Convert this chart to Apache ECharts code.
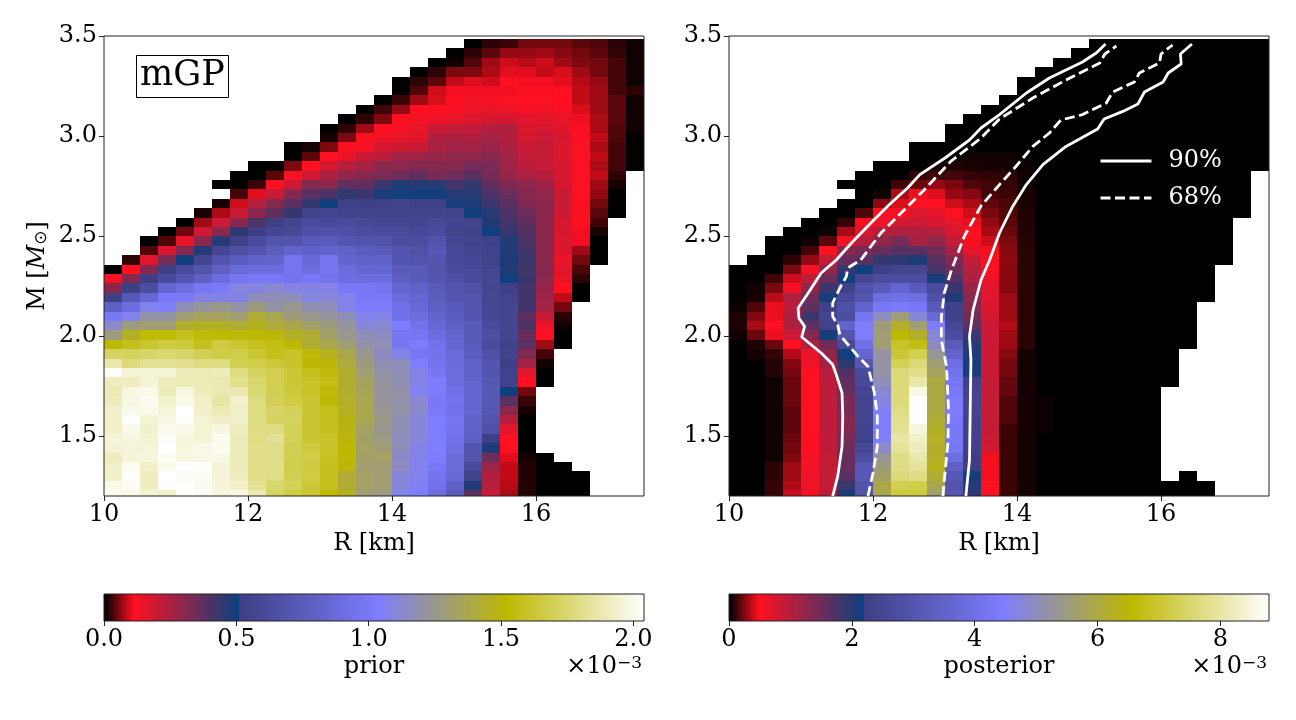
<!DOCTYPE html>
<html>
<head>
<meta charset="utf-8">
<style>html,body{margin:0;padding:0;background:#fff}#chart-container{width:1296px;height:720px}</style>
<script src="https://cdn.jsdelivr.net/npm/echarts@6/dist/echarts.min.js"></script>
</head>
<body>
<div id="chart-container"></div>
<script>
const _ = null;
// cell values in units of 1e-3, top row first, 30 radius bins per row
const priorRows = [
[_,_,_,_,_,_,_,_,_,_,_,_,_,_,_,_,_,_,_,_,0,.02,.025,.05,.05,.05,.04,.035,.02,.008],
[_,_,_,_,_,_,_,_,_,_,_,_,_,_,_,_,_,_,_,0,.02,.04,.065,.065,.07,.06,.05,.04,.022,.008],
[_,_,_,_,_,_,_,_,_,_,_,_,_,_,_,_,_,_,0,.008,.035,.07,.09,.08,.09,.07,.055,.05,.03,.008],
[_,_,_,_,_,_,_,_,_,_,_,_,_,_,_,_,_,0,.02,.055,.055,.075,.1,.1,.085,.095,.07,.05,.03,.008],
[_,_,_,_,_,_,_,_,_,_,_,_,_,_,_,_,0,.02,.04,.085,.098,.09,.113,.107,.107,.1,.08,.065,.03,.008],
[_,_,_,_,_,_,_,_,_,_,_,_,_,_,_,_,0,.035,.09,.107,.107,.107,.107,.11,.11,.113,.085,.07,.03,.02],
[_,_,_,_,_,_,_,_,_,_,_,_,_,_,_,0,.025,.07,.095,.11,.13,.13,.12,.115,.12,.113,.085,.07,.04,.008],
[_,_,_,_,_,_,_,_,_,_,_,_,_,_,0,.028,.065,.113,.115,.125,.14,.15,.14,.13,.14,.125,.095,.07,.04,.008],
[_,_,_,_,_,_,_,_,_,_,_,_,_,0,.02,.055,.113,.13,.14,.15,.17,.18,.18,.16,.16,.15,.105,.075,.04,.008],
[_,_,_,_,_,_,_,_,_,_,_,_,0,.02,.07,.113,.13,.15,.2,.21,.21,.23,.24,.17,.18,.16,.113,.075,.035,.008],
[_,_,_,_,_,_,_,_,_,_,_,_,.01,.055,.11,.14,.15,.16,.24,.25,.24,.26,.24,.18,.2,.18,.113,.085,.035,0],
[_,_,_,_,_,_,_,_,_,_,0,.01,.055,.11,.13,.18,.19,.2,.25,.27,.26,.28,.25,.2,.21,.17,.12,.075,.03,0],
[_,_,_,_,_,_,_,_,_,_,0,.04,.113,.15,.2,.22,.26,.27,.28,.29,.29,.31,.26,.21,.21,.17,.12,.085,.03,0],
[_,_,_,_,_,_,_,_,0,0,.055,.113,.18,.23,.26,.3,.3,.31,.31,.31,.34,.33,.27,.22,.2,.18,.118,.075,.03,0],
[_,_,_,_,_,_,_,0,0,.04,.13,.19,.25,.29,.31,.33,.35,.37,.33,.35,.38,.34,.28,.25,.23,.18,.118,.085,.02,_],
[_,_,_,_,_,_,0,0,.025,.11,.19,.31,.3,.37,.37,.43,.47,.46,.46,.42,.44,.37,.32,.3,.27,.18,.118,.07,.01,_],
[_,_,_,_,_,_,_,.03,.1,.2,.31,.38,.4,.45,.43,.48,.495,.495,.495,.46,.46,.4,.35,.31,.29,.2,.113,.065,0,_],
[_,_,_,_,_,_,.01,.09,.23,.31,.38,.44,.5,.53,.52,.53,.55,.53,.53,.49,.48,.43,.38,.32,.3,.2,.11,.05,0,_],
[_,_,_,_,_,.01,.075,.2,.3,.37,.44,.55,.56,.55,.55,.55,.55,.55,.55,.54,.5,.46,.4,.35,.3,.2,.11,.04,0,_],
[_,_,_,_,0,.07,.2,.3,.4,.52,.56,.62,.6,.62,.6,.58,.58,.56,.6,.56,.55,.47,.42,.37,.3,.18,.113,.028,_,_],
[_,_,_,0,.05,.19,.3,.45,.52,.57,.6,.65,.66,.65,.63,.62,.62,.6,.62,.55,.54,.5,.44,.39,.3,.18,.107,.012,_,_],
[_,_,0,.035,.15,.3,.46,.54,.62,.68,.68,.74,.74,.7,.68,.68,.63,.63,.68,.56,.55,.53,.47,.4,.3,.17,.107,0,_,_],
[_,_,.035,.17,.31,.47,.58,.65,.68,.76,.82,.8,.82,.8,.76,.74,.7,.66,.72,.6,.57,.55,.47,.42,.3,.17,.07,0,_,_],
[_,.02,.16,.33,.5,.56,.68,.76,.8,.82,.97,.86,.97,.82,.8,.8,.7,.68,.7,.6,.58,.54,.48,.43,.3,.15,.05,0,_,_],
[0,.113,.31,.52,.62,.68,.78,.87,.9,.9,.97,.9,.97,.9,.85,.84,.74,.74,.68,.62,.6,.56,.47,.42,.31,.16,.033,_,_,_],
[.13,.31,.52,.62,.7,.78,.9,.97,1,1,.96,1,.95,.9,.9,.9,.78,.74,.7,.65,.62,.58,.5,.43,.3,.15,.02,_,_,_],
[.3,.52,.63,.84,.9,.98,1.01,1.09,1.09,1.12,1.08,1.08,1.08,1,1,.97,.84,.8,.74,.68,.66,.57,.53,.42,.28,.113,0,_,_,_],
[.52,.72,.85,1,1,1.08,1.08,1.08,1.16,1.17,1.17,1.09,1.1,1.07,1,1,.88,.84,.76,.7,.68,.58,.55,.42,.27,.085,0,_,_,_],
[.78,.9,1.07,1.05,1.17,1.22,1.25,1.2,1.28,1.2,1.25,1.18,1.17,1.07,1.02,1.02,.93,.86,.78,.74,.7,.58,.56,.42,.26,.05,_,_,_,_],
[1,1.06,1.2,1.2,1.3,1.34,1.34,1.3,1.42,1.36,1.28,1.25,1.22,1.17,1.07,1.08,.93,.9,.82,.75,.7,.58,.56,.38,.2,.018,_,_,_,_],
[1.13,1.28,1.3,1.3,1.43,1.45,1.44,1.42,1.46,1.4,1.38,1.32,1.28,1.22,1.1,1.12,1.03,.95,.86,.78,.74,.62,.56,.4,.14,.008,_,_,_,_],
[1.28,1.44,1.53,1.53,1.58,1.54,1.53,1.53,1.52,1.5,1.44,1.42,1.32,1.25,1.17,1.15,.98,.98,.9,.82,.74,.64,.56,.36,.113,0,_,_,_,_],
[1.52,1.57,1.62,1.65,1.64,1.58,1.65,1.62,1.58,1.56,1.52,1.42,1.37,1.3,1.2,1.17,.98,1.03,.94,.84,.74,.62,.54,.38,.07,0,_,_,_,_],
[1.72,1.71,1.73,1.75,1.73,1.69,1.66,1.67,1.62,1.57,1.6,1.54,1.46,1.37,1.25,1.15,1.08,.98,.95,.87,.76,.66,.55,.32,.03,_,_,_,_,_],
[1.87,1.77,1.82,1.82,1.81,1.78,1.78,1.68,1.67,1.64,1.6,1.52,1.5,1.4,1.28,1.18,1.17,1.03,.96,.88,.8,.7,.52,.26,.008,_,_,_,_,_],
[2.03,1.95,1.95,1.95,1.9,1.89,1.9,1.78,1.72,1.68,1.63,1.58,1.54,1.43,1.3,1.2,1.17,1.08,.98,.9,.8,.7,.54,.16,0,_,_,_,_,_],
[1.91,1.91,1.95,1.91,1.89,1.89,1.88,1.81,1.74,1.68,1.63,1.6,1.56,1.43,1.34,1.22,1.18,1.08,1.02,.9,.82,.72,.54,.113,0,_,_,_,_,_],
[1.89,1.98,2,1.9,1.98,1.9,1.88,1.88,1.75,1.68,1.64,1.6,1.54,1.43,1.35,1.22,1.2,1.06,1.02,.92,.84,.72,.5,.05,_,_,_,_,_,_],
[1.9,1.98,2.01,1.94,2,1.93,1.85,1.94,1.78,1.69,1.66,1.62,1.52,1.44,1.36,1.22,1.2,1.12,1,.95,.84,.72,.38,.025,_,_,_,_,_,_],
[1.94,2,2,1.96,2.04,1.93,1.89,1.93,1.78,1.73,1.7,1.62,1.57,1.45,1.37,1.24,1.2,1.13,1,.94,.84,.72,.3,.01,_,_,_,_,_,_],
[1.93,2.04,1.95,1.98,2.03,1.96,1.92,1.94,1.78,1.72,1.72,1.62,1.57,1.48,1.36,1.26,1.18,1.1,1.03,.97,.8,.68,.23,0,_,_,_,_,_,_],
[1.93,2,1.94,2.01,2,1.95,1.97,1.91,1.78,1.78,1.7,1.62,1.58,1.48,1.33,1.25,1.18,1.1,1.03,.96,.8,.66,.16,0,_,_,_,_,_,_],
[1.96,1.97,1.95,2.02,1.97,1.95,2.01,1.9,1.79,1.82,1.7,1.62,1.6,1.5,1.32,1.27,1.16,1.1,1.03,.93,.78,.52,.113,0,_,_,_,_,_,_],
[1.95,1.96,1.96,2.04,1.97,1.99,2.01,1.9,1.8,1.8,1.68,1.65,1.6,1.52,1.33,1.3,1.16,1.08,1.03,.92,.7,.48,.113,0,_,_,_,_,_,_],
[1.91,1.96,1.97,2.02,1.98,1.99,1.99,1.9,1.8,1.8,1.68,1.66,1.59,1.52,1.32,1.33,1.14,1.07,1.02,.88,.68,.35,.1,.01,0,_,_,_,_,_],
[1.93,2.01,1.93,2,2.04,2.03,1.96,1.9,1.8,1.8,1.67,1.65,1.58,1.5,1.3,1.3,1.15,1.07,1,.88,.6,.28,.085,.015,0,0,_,_,_,_],
[1.93,2.03,1.91,2.04,2.02,2.02,1.96,1.91,1.8,1.79,1.68,1.66,1.58,1.42,1.33,1.3,1.1,1.07,.96,.86,.54,.24,.085,.015,0,0,0,_,_,_],
[2,2.02,1.91,2.03,2.04,2.01,1.96,1.93,1.82,1.74,1.7,1.63,1.58,1.42,1.33,1.3,1.1,1.05,.94,.8,.47,.23,.08,.015,0,0,0,_,_,_],
[2.01,1.99,1.95,1.93,2.04,2.02,1.97,1.99,1.88,1.72,1.66,1.62,1.52,1.46,1.3,1.27,1.07,1.03,.9,.74,.38,.2,.075,.015,0,0,0,_,_,_]
];
const posteriorRows = [
[_,_,_,_,_,_,_,_,_,_,_,_,_,_,_,_,_,_,_,_,0,0,0,0,0,0,0,0,0,0],
[_,_,_,_,_,_,_,_,_,_,_,_,_,_,_,_,_,_,_,0,0,0,0,0,0,0,0,0,0,0],
[_,_,_,_,_,_,_,_,_,_,_,_,_,_,_,_,_,_,0,0,0,0,0,0,0,0,0,0,0,0],
[_,_,_,_,_,_,_,_,_,_,_,_,_,_,_,_,_,0,0,0,0,0,0,0,0,0,0,0,0,0],
[_,_,_,_,_,_,_,_,_,_,_,_,_,_,_,_,0,0,0,0,0,0,0,0,0,0,0,0,0,0],
[_,_,_,_,_,_,_,_,_,_,_,_,_,_,_,_,0,0,0,0,0,0,0,0,0,0,0,0,0,0],
[_,_,_,_,_,_,_,_,_,_,_,_,_,_,_,0,0,0,0,0,0,0,0,0,0,0,0,0,0,0],
[_,_,_,_,_,_,_,_,_,_,_,_,_,_,0,0,0,0,0,0,0,0,0,0,0,0,0,0,0,0],
[_,_,_,_,_,_,_,_,_,_,_,_,_,0,0,0,0,0,0,0,0,0,0,0,0,0,0,0,0,0],
[_,_,_,_,_,_,_,_,_,_,_,_,0,0,0,0,0,0,0,0,0,0,0,0,0,0,0,0,0,0],
[_,_,_,_,_,_,_,_,_,_,_,_,0,0,0,0,0,0,0,0,0,0,0,0,0,0,0,0,0,0],
[_,_,_,_,_,_,_,_,_,_,0,0,0,0,0,0,0,0,0,0,0,0,0,0,0,0,0,0,0,0],
[_,_,_,_,_,_,_,_,_,_,0,0,.01,.03,.03,.03,0,0,0,0,0,0,0,0,0,0,0,0,0,0],
[_,_,_,_,_,_,_,_,0,0,0,.04,.06,.05,.04,.04,.02,0,0,0,0,0,0,0,0,0,0,0,0,0],
[_,_,_,_,_,_,_,0,0,0,.1,.12,.13,.1,.09,.08,.03,0,0,0,0,0,0,0,0,0,0,0,0,_],
[_,_,_,_,_,_,0,0,0,.12,.2,.28,.23,.15,.12,.1,.03,0,0,0,0,0,0,0,0,0,0,0,0,_],
[_,_,_,_,_,_,_,0,.03,.32,.45,.42,.28,.25,.13,.11,.05,0,0,0,0,0,0,0,0,0,0,0,0,_],
[_,_,_,_,_,_,0,0,.26,.41,.5,.48,.39,.32,.18,.14,.05,0,0,0,0,0,0,0,0,0,0,0,0,_],
[_,_,_,_,_,0,0,.15,.5,.55,.72,.65,.48,.39,.23,.15,.06,0,0,0,0,0,0,0,0,0,0,0,0,_],
[_,_,_,_,0,0,.1,.46,.62,.8,.85,.75,.65,.45,.28,.17,.06,0,0,0,0,0,0,0,0,0,0,0,_,_],
[_,_,_,0,0,.03,.32,.75,1,1.05,1.05,1,.75,.48,.32,.2,.07,0,0,0,0,0,0,0,0,0,0,0,_,_],
[_,_,0,0,.03,.17,.55,1,1.25,1.45,1.1,1.25,.9,.47,.39,.23,.07,0,0,0,0,0,0,0,0,0,0,0,_,_],
[_,_,0,0,.13,.48,1.3,1.45,1.55,1.65,1.65,1.45,1.1,.65,.46,.26,.08,0,0,0,0,0,0,0,0,0,0,0,_,_],
[_,0,0,.09,.28,.9,1.55,1.65,1.9,1.95,2.05,1.65,1.35,.9,.48,.27,.08,0,0,0,0,0,0,0,0,0,0,0,_,_],
[0,0,0,.23,.55,1.25,1.9,2.15,2.25,2.4,2.4,1.75,1.5,1,.5,.26,.08,0,0,0,0,0,0,0,0,0,0,_,_,_],
[0,0,.12,.39,.95,1.5,2.15,2.45,2.7,2.7,2.7,2.1,1.7,1.05,.6,.26,.08,0,0,0,0,0,0,0,0,0,0,_,_,_],
[0,.04,.23,.55,1.25,1.85,2.3,2.9,3.2,3.6,3.2,2.65,1.85,1.2,.7,.26,.08,0,0,0,0,0,0,0,0,0,0,_,_,_],
[0,.04,.35,1.05,1.5,2.1,2.6,3,3.9,4,3.9,2.85,2.05,1.3,.7,.3,.08,0,0,0,0,0,0,0,0,0,0,_,_,_],
[.02,.15,.45,.95,1.6,2.3,2.85,3.5,4.3,4.35,4.3,3.2,2.3,1.35,.75,.3,.08,0,0,0,0,0,0,0,0,0,_,_,_,_],
[.06,.25,.45,1.05,1.85,2.4,2.7,4.2,5,5.55,4.75,3.7,2.3,1.45,.8,.3,.08,0,0,0,0,0,0,0,0,0,_,_,_,_],
[.06,.32,.5,1.05,1.6,2.3,3.5,4.45,5.55,6.2,5.6,4.45,2.5,1.6,.85,.34,.08,0,0,0,0,0,0,0,0,0,_,_,_,_],
[.03,.2,.45,.85,1.35,2.1,3,4.45,5.6,6.55,6.2,4.75,2.7,1.85,.85,.3,.08,0,0,0,0,0,0,0,0,0,_,_,_,_],
[0,.06,.2,.48,1.05,1.5,2.6,4,5.6,6.9,6.7,4.9,3.2,2,.85,.3,.08,0,0,0,0,0,0,0,0,0,_,_,_,_],
[0,.04,.1,.34,.65,1.25,2.15,3.6,5.2,7,7.25,5.3,3.5,2.05,.85,.26,.04,0,0,0,0,0,0,0,0,_,_,_,_,_],
[0,0,.07,.25,.58,1.1,1.95,3.05,5.2,7.3,7.6,5.6,3.9,2.1,.85,.22,.04,0,0,0,0,0,0,0,0,_,_,_,_,_],
[0,0,.07,.22,.5,1,1.7,2.65,5.2,7.6,7.75,5.75,4.1,2.1,.85,.22,.04,0,0,0,0,0,0,0,0,_,_,_,_,_],
[0,0,.03,.2,.48,.95,1.6,2.6,5,7.6,8.05,6,4.2,2.3,.9,.19,.04,0,0,0,0,0,0,0,0,_,_,_,_,_],
[0,0,.03,.2,.48,.95,1.55,2.45,4.8,7.6,8.55,6,4.3,2.4,.9,.19,.04,0,0,0,0,0,0,0,_,_,_,_,_,_],
[0,0,.03,.2,.48,.95,1.4,2.4,4.7,7.6,8.75,6,4.4,2.4,.9,.15,.04,.02,0,0,0,0,0,0,_,_,_,_,_,_],
[0,0,.03,.18,.48,.95,1.4,2.4,4.5,7.7,8.75,6,4.4,2.4,.9,.15,.04,.02,0,0,0,0,0,0,_,_,_,_,_,_],
[0,0,.03,.18,.48,.95,1.35,2.4,4.45,7.8,8.79,6.1,4.35,2.35,.9,.15,.04,.02,0,0,0,0,0,0,_,_,_,_,_,_],
[0,0,.03,.18,.48,.95,1.35,2.35,4.45,7.85,8.5,6.2,4.3,2.3,.9,.11,.04,.02,0,0,0,0,0,0,_,_,_,_,_,_],
[0,0,.03,.2,.47,.92,1.45,2.35,4.5,8,8.3,6.25,4.3,2.35,.85,.11,.04,0,0,0,0,0,0,0,_,_,_,_,_,_],
[0,0,.03,.22,.5,.92,1.5,2.5,4.9,7.9,8.2,6.2,4.25,2.3,.8,.11,.04,0,0,0,0,0,0,0,_,_,_,_,_,_],
[0,0,.03,.24,.55,.9,1.55,2.7,5.3,7.7,8.05,6.2,3.9,2.2,.46,.11,.04,0,0,0,0,0,0,0,_,_,_,_,_,_],
[0,0,.09,.3,.55,.9,1.55,3.1,5.5,7.7,7.9,6.3,3.4,2.2,.46,.11,.04,0,0,0,0,0,0,0,_,_,_,_,_,_],
[0,0,.09,.3,.6,.9,1.65,3.1,5.7,7.6,7.7,6.1,3.1,2.1,.46,.11,.04,0,0,0,0,0,0,0,_,0,_,_,_,_],
[0,0,.1,.33,.6,.9,1.85,2.9,5.95,7.25,7.2,5.9,2.95,2,.48,.11,.04,0,0,0,0,0,0,0,0,0,0,_,_,_],
[0,0,.1,.38,.55,.95,2.1,2.9,5.9,7.1,7.1,5.6,3,1.95,.48,.11,.04,0,0,0,0,0,0,0,0,0,0,_,_,_]
];
const priorMax = 2.04;
const posteriorMax = 8.79;
const radiusStart = 10, radiusStep = 0.25;
const massStart = 1.182, massStep = 0.047;
const radiusTicks = [10, 12, 14, 16];
const massTicks = [1.5, 2, 2.5, 3, 3.5];
const priorTicks = [0, 0.5, 1, 1.5, 2];
const posteriorTicks = [0, 2, 4, 6, 8];

// contours, [R, M]
const solidLeft = [[11.44,1.2],[11.51,1.298],[11.57,1.448],[11.58,1.598],[11.57,1.715],[11.49,1.807],[11.44,1.857],[11.28,1.915],[11.01,1.995],[11.05,2.048],[10.97,2.09],[10.96,2.14],[11.1,2.215],[11.28,2.315],[11.49,2.38],[11.7,2.465],[11.97,2.565],[12.25,2.665],[12.48,2.74],[12.65,2.807],[13,2.89],[13.34,2.98],[13.5,3.04],[13.757,3.107],[14.13,3.215],[14.45,3.29],[14.91,3.37],[15.1,3.415],[15.23,3.46]];
const dashedLeft = [[11.93,1.2],[12,1.315],[12.06,1.448],[12.06,1.598],[12.02,1.715],[11.93,1.848],[11.77,1.907],[11.54,2.006],[11.51,2.056],[11.44,2.098],[11.44,2.165],[11.54,2.24],[11.63,2.298],[11.65,2.34],[11.83,2.38],[12.11,2.515],[12.39,2.615],[12.71,2.73],[13.08,2.873],[13.5,2.99],[13.757,3.085],[14.22,3.19],[14.68,3.28],[15.15,3.365],[15.22,3.41],[15.38,3.45]];
const solidRight = [[13.29,1.2],[13.34,1.38],[13.35,1.63],[13.36,1.88],[13.34,1.998],[13.39,2.13],[13.5,2.28],[13.62,2.38],[13.757,2.515],[13.94,2.648],[14.13,2.757],[14.36,2.857],[14.68,2.948],[15.12,3.035],[15.21,3.085],[15.47,3.123],[15.68,3.16],[15.77,3.22],[16.03,3.27],[16.1,3.315],[16.28,3.36],[16.27,3.41],[16.43,3.46]];
const dashedRight = [[12.97,1.2],[13,1.315],[13.04,1.465],[13.05,1.63],[13.02,1.848],[12.95,1.98],[12.95,2.098],[12.99,2.215],[13.09,2.33],[13.27,2.5],[13.5,2.65],[13.757,2.757],[13.99,2.85],[14.22,2.948],[14.45,3.015],[14.61,3.08],[14.91,3.107],[15.24,3.165],[15.33,3.22],[15.63,3.27],[15.7,3.315],[15.98,3.365],[16,3.41],[16.16,3.455]];

var dom = document.getElementById('chart-container');
var myChart = echarts.init(dom, null, { renderer: 'canvas' });

const serif = '"DejaVu Serif"';
const ink = '#222';
const textSize = 24;

// colour stops of the map, same for both panels
const stops = [
  [0, [0, 0, 0]],
  [0.055, [255, 16, 32]],
  [0.2495, [10, 64, 128]],
  [0.25, [62, 62, 132]],
  [0.505, [125, 125, 255]],
  [0.744, [189, 184, 0]],
  [1, [255, 255, 255]]
];
function cmap(t) {
  t = Math.max(0, Math.min(1, t));
  for (let i = 1; i < stops.length; i++) {
    if (t <= stops[i][0]) {
      const a = stops[i - 1], b = stops[i];
      const f = (t - a[0]) / (b[0] - a[0]);
      const c = a[1].map((v, k) => Math.round(v + (b[1][k] - v) * f));
      return 'rgb(' + c.join(',') + ')';
    }
  }
  return '#fff';
}

function toCells(rows) {
  const out = [];
  rows.forEach((row, r) => {
    const i = rows.length - 1 - r;
    row.forEach((v, c) => {
      if (v !== null) out.push([radiusStart + c * radiusStep, massStart + i * massStep, v]);
    });
  });
  return out;
}

function cellRenderer(maxVal) {
  return function (params, api) {
    const r = api.value(0), m = api.value(1);
    const p0 = api.coord([r, m]);
    const p1 = api.coord([r + radiusStep, m + massStep]);
    const x0 = Math.round(p0[0]), x1 = Math.round(p1[0]);
    const y0 = Math.round(p0[1]), y1 = Math.round(p1[1]);
    return {
      type: 'rect',
      shape: { x: x0, y: y1, width: x1 - x0, height: y0 - y1 },
      style: { fill: cmap(api.value(2) / maxVal) }
    };
  };
}

function barRenderer(maxVal) {
  return function (params, api) {
    const p0 = api.coord([api.value(0), 0]);
    const p1 = api.coord([api.value(1), 1]);
    return {
      type: 'rect',
      shape: { x: p0[0], y: p1[1], width: p1[0] - p0[0] + 0.6, height: p0[1] - p1[1] },
      style: { fill: cmap(api.value(0) / maxVal) }
    };
  };
}

function barLevels(maxVal) {
  const n = 540, out = [];
  for (let k = 0; k < n; k++) out.push([maxVal * k / n, maxVal * (k + 1) / n]);
  return out;
}

function mainX(gridIndex) {
  return {
    type: 'value', gridIndex, min: 10, max: 17.5, z: 5,
    name: 'R [km]', nameLocation: 'middle', nameGap: 33,
    nameTextStyle: { fontFamily: serif, fontSize: textSize, color: '#000' },
    splitLine: { show: false },
    axisLine: { show: false },
    axisTick: { show: true, length: 5, inside: false, customValues: radiusTicks, lineStyle: { color: ink, width: 1 } },
    axisLabel: { customValues: radiusTicks, fontFamily: serif, fontSize: textSize, color: '#000', margin: 7, formatter: v => String(v) }
  };
}

function mainY(gridIndex, nameText) {
  return {
    type: 'value', gridIndex, min: 1.2, max: 3.5, z: 5,
    name: nameText, nameLocation: 'middle', nameGap: 54, nameRotate: 90,
    nameTextStyle: {
      color: '#000',
      rich: {
        a: { fontFamily: serif, fontSize: textSize, color: '#000' },
        i: { fontFamily: serif, fontStyle: 'italic', fontSize: textSize, color: '#000' },
        s: { fontFamily: '"DejaVu Sans"', fontSize: 17, color: '#000', verticalAlign: 'bottom' }
      }
    },
    splitLine: { show: false },
    axisLine: { show: false },
    axisTick: { show: true, length: 5, customValues: massTicks, lineStyle: { color: ink, width: 1 } },
    axisLabel: { customValues: massTicks, fontFamily: serif, fontSize: textSize, color: '#000', margin: 7, formatter: v => v.toFixed(1) }
  };
}

function barX(gridIndex, maxVal, ticks, label, digits) {
  return {
    type: 'value', gridIndex, min: 0, max: maxVal, z: 5,
    name: label, nameLocation: 'middle', nameGap: 34,
    nameTextStyle: { fontFamily: serif, fontSize: textSize, color: '#000' },
    splitLine: { show: false },
    axisLine: { show: false },
    axisTick: { show: true, length: 5, customValues: ticks, lineStyle: { color: ink, width: 1 } },
    axisLabel: { customValues: ticks, fontFamily: serif, fontSize: textSize, color: '#000', margin: 7, formatter: v => v.toFixed(digits) }
  };
}

function barY(gridIndex) {
  return { type: 'value', gridIndex, min: 0, max: 1, show: false };
}

function contour(name, data, dashed) {
  return {
    name, type: 'line', xAxisIndex: 1, yAxisIndex: 1, data, z: 4,
    symbol: 'none', smooth: false, silent: true, animation: false,
    lineStyle: { color: '#fff', width: 2.8, type: dashed ? [10, 4.5] : 'solid' },
    itemStyle: { color: '#fff' }
  };
}

function cellSeries(idx, rows, maxVal) {
  return {
    type: 'custom', xAxisIndex: idx, yAxisIndex: idx, z: 2, clip: true, silent: true,
    renderItem: cellRenderer(maxVal), encode: { x: 0, y: 1 }, data: toCells(rows)
  };
}

function barSeries(idx, maxVal) {
  return {
    type: 'custom', xAxisIndex: idx, yAxisIndex: idx, z: 2, clip: true, silent: true,
    renderItem: barRenderer(maxVal), encode: { x: [0, 1] }, data: barLevels(maxVal)
  };
}

function frame(left, top, height) {
  return { left, top, width: 540, height, show: true, z: 3, backgroundColor: 'transparent', borderColor: ink, borderWidth: 1 };
}

function exponent(right, top) {
  return {
    type: 'text', right, top, z: 10,
    style: {
      text: '{a|×10}{b|−3}',
      rich: {
        a: { fontFamily: serif, fontSize: textSize, fill: '#000', color: '#000' },
        b: { fontFamily: serif, fontSize: 17, fill: '#000', color: '#000', verticalAlign: 'top' }
      }
    }
  };
}

var option = {
  animation: false,
  backgroundColor: '#fff',
  grid: [frame(104, 36, 460), frame(729, 36, 460), frame(104, 594, 27), frame(729, 594, 27)],
  xAxis: [
    mainX(0), mainX(1),
    barX(2, priorMax, priorTicks, 'prior', 1),
    barX(3, posteriorMax, posteriorTicks, 'posterior', 0)
  ],
  yAxis: [
    mainY(0, '{a|M [}{i|M}{s|⊙}{a|]}'), mainY(1, ''),
    barY(2), barY(3)
  ],
  legend: {
    data: ['90%', '68%'], orient: 'vertical', left: 1099, top: 149, padding: 0,
    itemWidth: 51, itemHeight: 22, itemGap: 13,
    itemStyle: { opacity: 0 },
    lineStyle: { width: 3 },
    textStyle: { fontFamily: serif, fontSize: textSize, color: '#fff', padding: [0, 0, 0, 12] },
    selectedMode: false, z: 6
  },
  graphic: [
    {
      type: 'rect', left: 136, top: 55, z: 9,
      shape: { width: 92, height: 42 },
      style: { fill: '#fff', stroke: '#000', lineWidth: 1 }
    },
    {
      type: 'text', left: 140, top: 58, z: 10,
      style: { text: 'mGP', font: '35px "DejaVu Serif"', fill: '#000' }
    },
    exponent(654, 655),
    exponent(29, 655)
  ],
  series: [
    cellSeries(0, priorRows, priorMax),
    cellSeries(1, posteriorRows, posteriorMax),
    barSeries(2, priorMax),
    barSeries(3, posteriorMax),
    contour('90%', solidLeft, false),
    contour('90%', solidRight, false),
    contour('68%', dashedLeft, true),
    contour('68%', dashedRight, true)
  ]
};
myChart.setOption(option);
window.addEventListener('resize', myChart.resize);
</script>
</body>
</html>
